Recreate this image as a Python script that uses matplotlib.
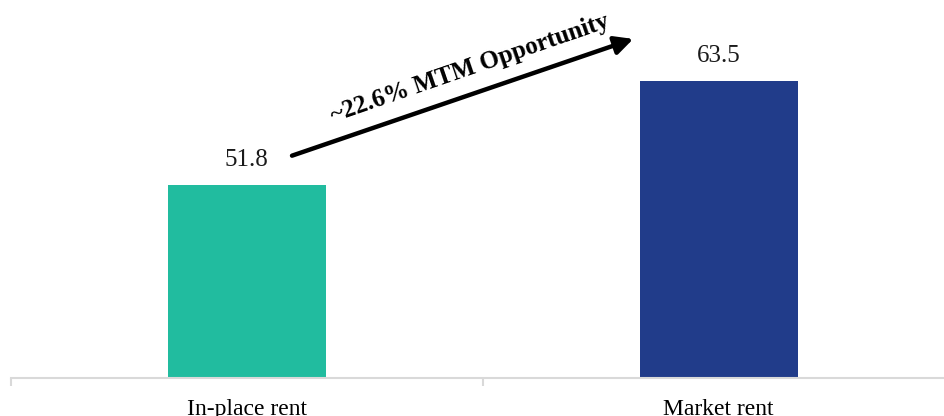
import numpy as np
import matplotlib.pyplot as plt

categories = ["In-place rent", "Market rent"]
values = [51.8, 63.5]
bar_colors = ["#21BC9F", "#213C8A"]
arrow_label = "~22.6% MTM Opportunity"

plt.rcParams["font.family"] = ["Liberation Serif", "DejaVu Serif"]

fig = plt.figure(figsize=(9.44, 4.16), dpi=100)
ax = fig.add_axes([10.7 / 944, 38.3 / 416, 944 / 944, 377.7 / 416])

x = np.arange(len(categories))
ax.bar(x, values, width=0.335, color=bar_colors, zorder=2)

for xi, v in zip(x, values):
    ax.annotate(f"{v:.1f}", (xi, v), xytext=(0, 10), textcoords="offset points",
                ha="center", va="bottom", fontsize=18, color="#1a1a1a")

ax.set_xlim(-0.5, 1.5)
ax.set_ylim(30, 72.7)

# arrow + label
ax.annotate("", xy=(0.819, 68.3), xytext=(0.096, 55.1),
            arrowprops=dict(arrowstyle="-|>,head_length=1.1,head_width=0.55",
                            lw=3.2, color="black", shrinkA=0, shrinkB=0))
ax.text(0.473, 65.0, arrow_label, rotation=19, rotation_mode="anchor",
        ha="center", va="center", fontsize=18, fontweight="bold")

for s in ["top", "right", "left"]:
    ax.spines[s].set_visible(False)
ax.spines["bottom"].set_color("#D9D9D9")
ax.spines["bottom"].set_linewidth(1.5)
ax.set_yticks([])
ax.set_xticks(x)
ax.set_xticklabels(categories, fontsize=17)
ax.tick_params(axis="x", which="major", length=0, pad=15)
ax.set_xticks([-0.5, 0.5, 1.5], minor=True)
ax.tick_params(axis="x", which="minor", length=6, width=1.5, color="#D9D9D9")

fig.savefig("out.png", dpi=100)
